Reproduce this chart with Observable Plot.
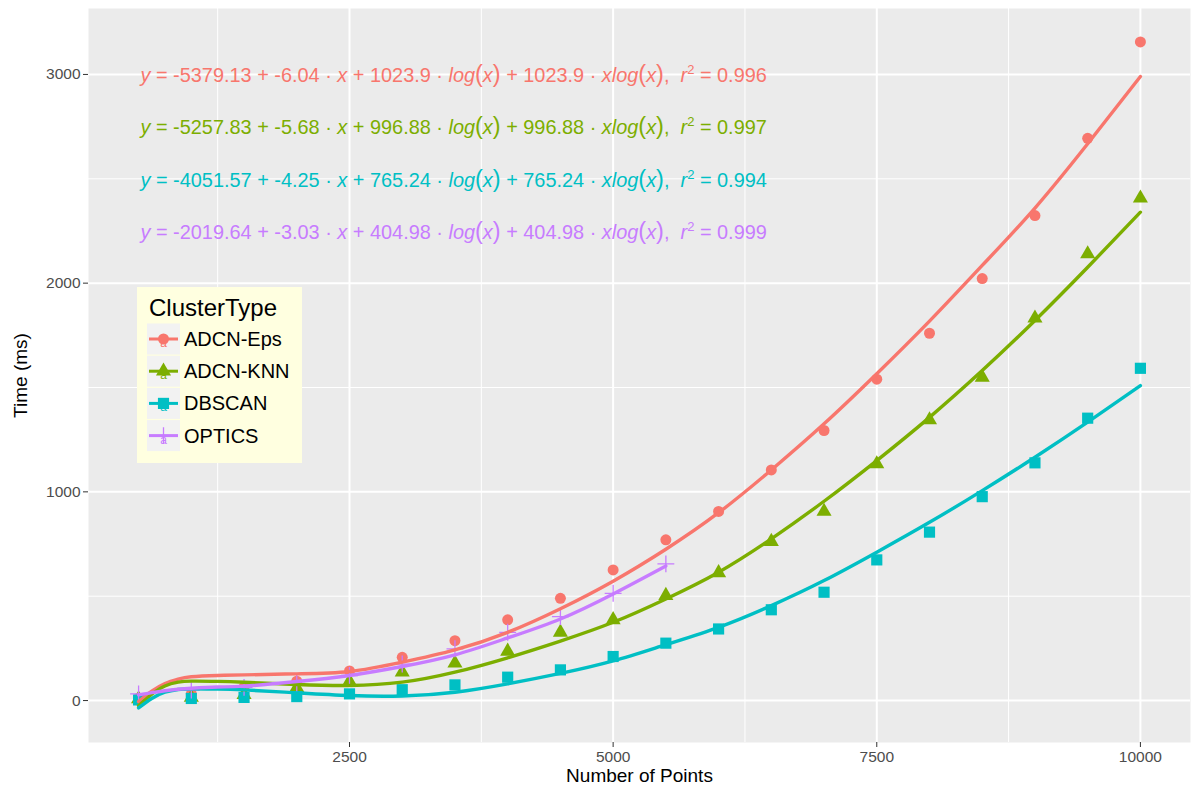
<!DOCTYPE html>
<html><head><meta charset="utf-8">
<script src="https://cdn.jsdelivr.net/npm/d3@7"></script>
<script src="https://cdn.jsdelivr.net/npm/@observablehq/plot@0.6"></script>
<style>
body{margin:0;background:#fff;font-family:"Liberation Sans",Arial,sans-serif;}
#wrap{position:relative;width:1191px;height:796px;}
#legend{position:absolute;left:0;top:0;}
</style></head><body><div id="wrap"></div>
<script>
const series = ["ADCN-Eps","ADCN-KNN","DBSCAN","OPTICS"];
const colors = ["#F8766D","#7CAE00","#00BFC4","#C77CFF"];
const symbols = ["circle","triangle","square","plus"];

const nPoints = [500,1000,1500,2000,2500,3000,3500,4000,4500,5000,5500,6000,6500,7000,7500,8000,8500,9000,9500,10000];
const timeEps    = [12,32,64,93,142,207,287,387,490,626,770,906,1105,1294,1540,1760,2022,2324,2694,3156];
const timeKnn    = [8,15,28,62,92,136,179,236,327,387,503,612,762,906,1134,1345,1549,1832,2140,2407];
const timeDbscan = [3,10,15,19,32,52,75,112,147,211,275,343,435,519,674,807,977,1139,1353,1592];
const timeOptics = [32,50,63,82,120,175,248,327,402,514,655];

const fitX      = [500,625,750,875,1000,1250,1500,2000,2500,3000,3500,4000,4500,5000,5500,6000,6500,7000,7500,8000,8500,9000,9500,10000];
const fitEps    = [-5,45,82,103,114,120,123,128,139,184,243,327,440,572,725,900,1105,1326,1566,1818,2085,2360,2668,2990];
const fitKnn    = [-25,30,70,88,93,92,88,77,72,88,136,205,285,375,487,615,775,955,1150,1357,1581,1821,2076,2340];
const fitDbscan = [-35,10,40,53,56,55,51,37,24,22,40,80,130,190,268,351,455,575,711,854,1006,1166,1334,1509];
const fitOptics = [27,38,47,54,59,65,69,91,120,163,219,300,391,511,645];

const eqIntercept = ["-5379.13","-5257.83","-4051.57","-2019.64"];
const eqSlope     = ["-6.04","-5.68","-4.25","-3.03"];
const eqCoef      = ["1023.9","996.88","765.24","404.98"];
const eqR2        = ["0.996","0.997","0.994","0.999"];

const xMajor = [2500,5000,7500,10000];
const xMinor = [1250,3750,6250,8750];
const yMajor = [0,1000,2000,3000];
const yMinor = [500,1500,2500];

const times = [timeEps,timeKnn,timeDbscan,timeOptics];
const fits = [fitEps,fitKnn,fitDbscan,fitOptics];
const pointRows = [], fitRows = [];
series.forEach((s,k)=>{
  times[k].forEach((v,i)=>pointRows.push({s, x:nPoints[i], y:v}));
  fits[k].forEach((v,i)=>fitRows.push({s, x:fitX[i], y:v}));
});
const pts = s => pointRows.filter(d=>d.s===s);

const eqMarks = series.map((s,k)=>Plot.text([k], {
  frameAnchor:"top-left", dx:52, dy:67 + k*52.4, text:()=> "EQ"+k, textAnchor:"start",
  lineAnchor:"middle", fill:colors[k], fontSize:19.9
}));

const plot = Plot.plot({
  width:1191, height:796, marginLeft:88, marginRight:1, marginTop:8, marginBottom:54,
  style:{fontFamily:'"Liberation Sans", Arial, sans-serif', fontSize:"15px", color:"#4D4D4D", background:"white", overflow:"visible"},
  x:{domain:[25,10475]},
  y:{domain:[-201,3316]},
  color:{domain:series, range:colors},
  marks:[
    Plot.frame({fill:"#EBEBEB", stroke:null}),
    Plot.gridX(xMinor,{stroke:"white", strokeOpacity:1, strokeWidth:1}),
    Plot.gridY(yMinor,{stroke:"white", strokeOpacity:1, strokeWidth:1}),
    Plot.gridX(xMajor,{stroke:"white", strokeOpacity:1, strokeWidth:2}),
    Plot.gridY(yMajor,{stroke:"white", strokeOpacity:1, strokeWidth:2}),
    Plot.axisX(xMajor,{tickSize:5, tickPadding:3, stroke:"#333333", fill:"#4D4D4D", fontSize:15.5, label:null, tickFormat:d=>String(d)}),
    Plot.axisY(yMajor,{tickSize:5, tickPadding:3, stroke:"#333333", fill:"#4D4D4D", fontSize:15.5, label:null, tickFormat:d=>String(d)}),
    Plot.text(["Number of Points"],{frameAnchor:"bottom", dy:39, fill:"black", fontSize:19}),
    Plot.text(["Time (ms)"],{frameAnchor:"left", dx:-68, rotate:-90, textAnchor:"middle", fill:"black", fontSize:19}),
    Plot.dot(pts("ADCN-Eps"),{x:"x", y:"y", fill:colors[0], symbol:"circle", r:5.5}),
    Plot.dot(pts("ADCN-KNN"),{x:"x", y:"y", fill:colors[1], symbol:"triangle", r:5.6}),
    Plot.dot(pts("DBSCAN"),{x:"x", y:"y", fill:colors[2], symbol:"square", r:6.3}),
    Plot.dot(pts("OPTICS"),{x:"x", y:"y", stroke:colors[3], symbol:"plus", r:5.5, strokeWidth:1.3}),
    Plot.line(fitRows,{x:"x", y:"y", z:"s", stroke:"s", strokeWidth:3.4, curve:"natural"}),
    ...eqMarks
  ]
});
document.getElementById("wrap").appendChild(plot);

// build plotmath-like equation labels
const svg = d3.select(plot);
series.forEach((s,k)=>{
  const t = svg.selectAll("text").filter(function(){ return this.textContent === "EQ"+k; });
  t.text(null);
  const segs = [
    ["y","i"],[" = "+eqIntercept[k]+" + "+eqSlope[k]+" \u00B7 "],["x","i"],[" + "+eqCoef[k]+" \u00B7 "],
    ["log","i"],["(","p"],["x","i"],[")","p"],[" + "+eqCoef[k]+" \u00B7 "],["xlog","i"],["(","p"],["x","i"],[")","p"],
    [",  "],["r","i"],["2","s"],[" = "+eqR2[k],"e"]
  ];
  for(const [str,st] of segs){
    const ts = t.append("tspan").text(str);
    if(st==="i") ts.attr("font-style","italic");
    if(st==="p") ts.attr("font-size","23.5px");
    if(st==="s") ts.attr("font-size","13px").attr("dy","-8");
    if(st==="e") ts.attr("dy","8");
  }
});

// legend overlay
const L = d3.select("#wrap").append("svg").attr("id","legend").attr("width",1191).attr("height",796);
L.append("rect").attr("x",137).attr("y",287).attr("width",165).attr("height",176).attr("fill","#FFFFE0");
L.append("text").attr("x",149).attr("y",316).attr("font-size",24).attr("fill","black")
  .attr("font-family",'"Liberation Sans", Arial, sans-serif').text("ClusterType");
const symSize = {circle:Math.PI*5.5*5.5, triangle:Math.PI*5.6*5.6, square:Math.PI*6.3*6.3, plus:Math.PI*5.5*5.5};
const d3sym = {circle:d3.symbolCircle, triangle:d3.symbolTriangle, square:d3.symbolSquare, plus:d3.symbolPlus};
series.forEach((s,k)=>{
  const top = 323.5 + k*32.2, cx = 163.5, cy = top + 15.5;
  L.append("rect").attr("x",147).attr("y",top).attr("width",33).attr("height",31).attr("fill","#F2F2F2");
  L.append("text").attr("x",cx).attr("y",cy+8).attr("text-anchor","middle").attr("font-size",12)
    .attr("fill",colors[k]).attr("font-family",'"Liberation Sans", Arial, sans-serif').text("a");
  const path = d3.symbol(d3sym[symbols[k]], symSize[symbols[k]])();
  const p = L.append("path").attr("d",path).attr("transform",`translate(${cx},${cy})`);
  if(symbols[k]==="plus") p.attr("fill","none").attr("stroke",colors[k]).attr("stroke-width",1.3);
  else p.attr("fill",colors[k]);
  L.append("line").attr("x1",149).attr("x2",178).attr("y1",cy).attr("y2",cy).attr("stroke",colors[k]).attr("stroke-width",3);
  L.append("text").attr("x",184).attr("y",cy+7).attr("font-size",20).attr("fill","black")
    .attr("font-family",'"Liberation Sans", Arial, sans-serif').text(s);
});
</script></body></html>
